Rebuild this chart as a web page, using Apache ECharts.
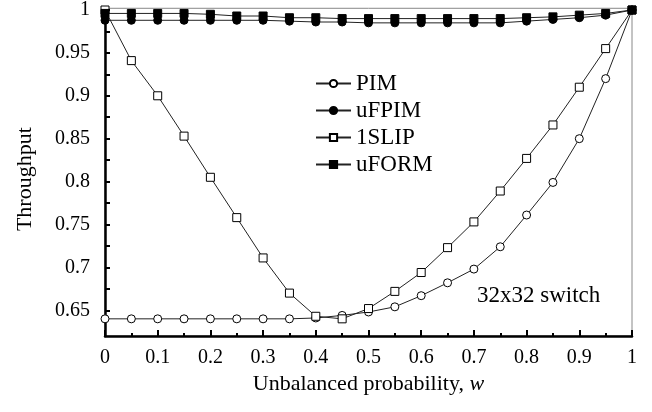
<!DOCTYPE html>
<html>
<head>
<meta charset="utf-8">
<script src="https://cdn.jsdelivr.net/npm/echarts@6/dist/echarts.min.js"></script>
<style>html,body{margin:0;padding:0;background:#fff}#c{width:652px;height:412px}</style>
</head>
<body>
<div id="c"></div>
<script>
var wValues = [0,0.05,0.1,0.15,0.2,0.25,0.3,0.35,0.4,0.45,0.5,0.55,0.6,0.65,0.7,0.75,0.8,0.85,0.9,0.95,1];
var pim   = [0.640,0.640,0.640,0.640,0.640,0.640,0.640,0.640,0.641,0.644,0.648,0.654,0.667,0.682,0.698,0.724,0.761,0.799,0.850,0.920,1.000];
var ufpim = [0.988,0.988,0.988,0.988,0.988,0.988,0.988,0.987,0.986,0.986,0.985,0.985,0.985,0.985,0.985,0.985,0.987,0.989,0.991,0.994,1.000];
var slip1 = [1.000,0.941,0.900,0.853,0.805,0.758,0.711,0.670,0.643,0.640,0.652,0.672,0.694,0.723,0.753,0.789,0.827,0.866,0.910,0.955,1.000];
var uform = [0.996,0.996,0.996,0.996,0.995,0.993,0.993,0.991,0.991,0.990,0.990,0.990,0.990,0.990,0.990,0.990,0.991,0.992,0.994,0.996,1.000];
var yLabelValues = [0.65,0.7,0.75,0.8,0.85,0.9,0.95,1];
var yTickValues = [0.65,0.675,0.7,0.725,0.75,0.775,0.8,0.825,0.85,0.875,0.9,0.925,0.95,0.975,1];
var seriesNames = ['PIM','uFPIM','1SLIP','uFORM'];
var noteText = '32x32 switch';

function pairs(vals){ return wValues.map(function(w,i){ return [w, vals[i]]; }); }

var font = 'Liberation Serif';
var chart = echarts.init(document.getElementById('c'), null, {renderer:'canvas'});

function mkSeries(name, vals, symbol, filled){
  return {
    name: name, type:'line', data: pairs(vals),
    symbol: symbol, symbolSize: 8, showSymbol: true,
    lineStyle:{color:'#222', width:1},
    itemStyle:{color: filled ? '#000' : '#fff', borderColor:'#000', borderWidth:1},
    emphasis:{disabled:true}, animation:false
  };
}

chart.setOption({
  animation:false,
  grid:{left:105, right:20, top:5, bottom:76, show:true, borderColor:'#888', borderWidth:1, backgroundColor:'transparent'},
  title:{text:noteText, left:477, top:284, padding:0, textStyle:{fontFamily:font, fontSize:23, fontWeight:'normal', color:'#000'}},
  legend:{
    orient:'vertical', left:315, top:72, padding:0, itemWidth:35, itemHeight:9, itemGap:4,
    data: seriesNames,
    textStyle:{fontFamily:font, fontSize:23, color:'#000', lineHeight:23}
  },
  xAxis:{
    type:'value', min:0, max:1, interval:0.1,
    name:'{n|Unbalanced probability, }{i|w}', nameLocation:'middle', nameGap:37,
    nameTextStyle:{fontFamily:font, fontSize:22, color:'#000',
      rich:{n:{fontFamily:font, fontSize:22, color:'#000'}, i:{fontFamily:font, fontSize:22, fontStyle:'italic', color:'#000'}}},
    axisLine:{show:true, onZero:false, lineStyle:{color:'#000', width:2.5}},
    axisTick:{show:true, inside:true, length:6, lineStyle:{color:'#000', width:2}},
    minorTick:{show:true, splitNumber:2, length:3, lineStyle:{color:'#000', width:2}},
    axisLabel:{fontFamily:font, fontSize:20, color:'#000', margin:12},
    splitLine:{show:false}
  },
  yAxis:{
    type:'value', min:0.62, max:1.002,
    name:'Throughput', nameLocation:'middle', nameGap:69, nameRotate:90,
    nameTextStyle:{fontFamily:font, fontSize:22, color:'#000', padding:[0,14,0,0]},
    axisLine:{show:true, onZero:false, lineStyle:{color:'#000', width:2.5}},
    axisTick:{show:true, inside:true, length:5, customValues:yTickValues, lineStyle:{color:'#000', width:2}},
    axisLabel:{fontFamily:font, fontSize:20, color:'#000', margin:15, customValues:yLabelValues,
      formatter:function(v){ return String(+v.toFixed(3)); }},
    splitLine:{show:false}
  },
  series:[
    mkSeries('PIM', pim, 'circle', false),
    mkSeries('uFPIM', ufpim, 'circle', true),
    mkSeries('1SLIP', slip1, 'rect', false),
    mkSeries('uFORM', uform, 'rect', true)
  ]
});
</script>
</body>
</html>
